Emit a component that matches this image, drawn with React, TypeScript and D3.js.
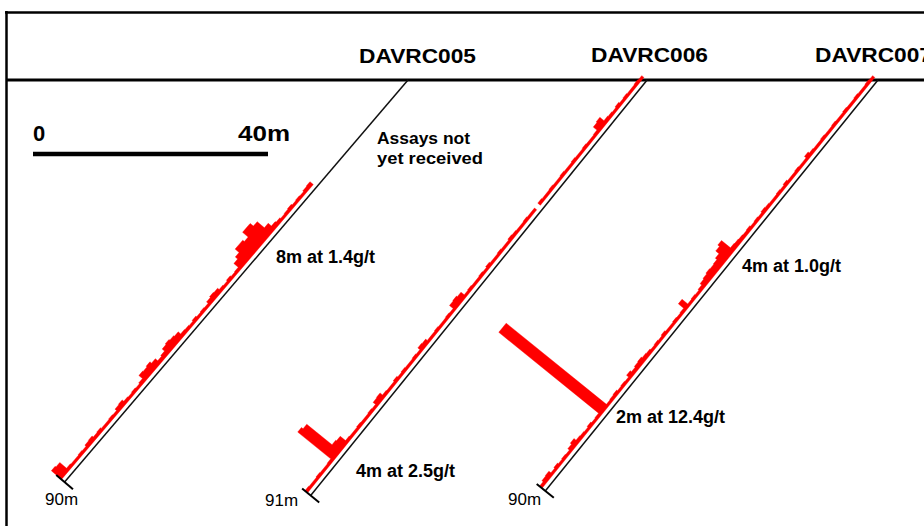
import * as d3 from "d3";

// drill section DAVRC005-007, gold assays (g/t) per 1m downhole, null = not sampled
const holeIds = ["DAVRC005", "DAVRC006", "DAVRC007"];
const collarEasting = [0, 40.7, 80];
const holeDip = [49.5, 51, 51];
const holeDepth = [90, 91, 90];
const assayStart = [24, 0, 0];
const depthLabels = ["90m", "91m", "90m"];

const grades005 = [
  0.25, 0.2, 0.1, 0.15, 0.1, 0.2, 0.15, 0.1, 0.2, 0.3,
  0.7, 1.6, 2.0, 2.0, 1.3, 1.5, 1.5, 1.0, 0.7,
  0.15, 0.1, 0.2, 0.1, 0.15,
  0.35, 0.4, 0.3,
  0.1, 0.15, 0.1, 0.2, 0.1, 0.15, 0.2,
  0.5, 0.6, 0.7, 0.6, 0.3,
  0.2, 0.5,
  0.7, 0.6, 0.65, 0.2,
  0.1, 0.15, 0.1, 0.15,
  0.35, 0.3,
  0.1, 0.15, 0.1, 0.1, 0.2, 0.15,
  0.3, 0.25,
  0.1, 0.15, 0.1, 0.1, 0.15,
  1.0, 1.1,
];
const grades006 = [
  0.1, 0.15, 0.1, 0.1, 0.15, 0.1, 0.2, 0.1, 0.15, 0.2,
  0.7, 0.6,
  0.15, 0.1, 0.1, 0.15, 0.1, 0.1, 0.15, 0.1, 0.1, 0.15, 0.1, 0.1, 0.15, 0.1, 0.1, 0.15,
  null,
  0.1, 0.1, 0.15, 0.1, 0.1, 0.15, 0.2, 0.1, 0.1, 0.15, 0.1, 0.1, 0.2, 0.1, 0.15, 0.1, 0.1, 0.15, 0.1,
  0.5, 0.6, 0.55,
  0.1, 0.15, 0.1, 0.1, 0.15, 0.1, 0.1,
  0.3, 0.35,
  0.1, 0.15, 0.1, 0.1, 0.15, 0.1, 0.2, 0.1, 0.1, 0.15,
  0.45, 0.4,
  0.1, 0.15, 0.1, 0.1, 0.15, 0.1, 0.1, 0.15,
  0.8, 0.9, 4.0, 4.2,
  0.15, 0.1, 0.1, 0.15, 0.1, 0.1, 0.15,
];
const grades007 = [
  0.1, 0.15, 0.1, 0.1, 0.15, 0.1, 0.1, 0.15, 0.1, 0.1,
  0.15, 0.1, 0.1, 0.15, 0.1, 0.1, 0.15, 0.3, 0.1, 0.1,
  0.15, 0.1, 0.1, 0.2, 0.1, 0.15, 0.1, 0.1, 0.15, 0.2,
  0.1, 0.15, 0.1, 0.2, 0.15, 0.2, 0.25,
  0.3, 1.4, 1.2, 0.8, 0.6, 0.55, 0.6, 0.5, 0.4, 0.2,
  0.1, 0.15, 0.1,
  0.8, 0.15,
  0.1, 0.15, 0.1, 0.1, 0.2, 0.1, 0.15, 0.1, 0.2, 0.25,
  0.35, 0.3, 0.2, 0.35,
  0.1, 0.15, 0.1, 0.2, 0.15, 0.1,
  12.4, 12.4,
  0.15, 0.1, 0.2, 0.1, 0.15, 0.2,
  0.45, 0.3,
  0.1, 0.15, 0.1, 0.2, 0.1,
  0.35, 0.3, 0.15,
];
const holeGrades = [grades005, grades006, grades007];

const intercepts = ["8m at 1.4g/t", "4m at 2.5g/t", "2m at 12.4g/t", "4m at 1.0g/t"];
const scaleBarTicks = [0, 40];

// layout
const W = 924, H = 526;
const font = "'Liberation Sans', Arial, Helvetica, sans-serif";
const interceptPos = [[276, 263], [356, 477], [616, 423], [742, 272]];
const depthLabelPos = [[45, 505], [265, 506], [508, 505]];
const nameX = [359, 591, 815];
const nameY = [63, 62, 62];
const RED_OFF = 5;

type Pt = [number, number];

export default function App() {
  const x = d3.scaleLinear().domain([0, 40]).range([408, 643]);
  const y = d3.scaleLinear().domain([0, 40]).range([80, 315]);
  const gx = d3.scaleLinear().domain([0, 12.4]).range([0, 130]);
  const sb = d3.scaleLinear().domain([0, 40]).range([33, 268]);
  const line = d3.line<Pt>();

  const holes = holeIds.map((id, i) => {
    const a = (holeDip[i] * Math.PI) / 180;
    const cos = Math.cos(a), sin = Math.sin(a);
    const at = (d: number): Pt => [x(collarEasting[i] - d * cos), y(d * sin)];
    const n: Pt = [-sin, -cos]; // up-left normal
    const off = (p: Pt, k: number): Pt => [p[0] + n[0] * k, p[1] + n[1] * k];
    const grades = holeGrades[i];

    // split into contiguous sampled runs, one stepped polygon per run
    const runs: { d0: number; d1: number; v: number }[][] = [];
    let cur: { d0: number; d1: number; v: number }[] = [];
    grades.forEach((v, j) => {
      if (v == null) { if (cur.length) runs.push(cur); cur = []; return; }
      const d0 = assayStart[i] + j;
      cur.push({ d0, d1: Math.min(d0 + 1, holeDepth[i]), v });
    });
    if (cur.length) runs.push(cur);

    const bars = runs.map((r) => {
      const outer: Pt[] = [];
      r.forEach((s) => {
        const e = RED_OFF + 0.9 + gx(s.v);
        outer.push(off(at(s.d0), e), off(at(s.d1), e));
      });
      const inner: Pt[] = [off(at(r[r.length - 1].d1), RED_OFF - 0.9), off(at(r[0].d0), RED_OFF - 0.9)];
      return line([...outer, ...inner])! + "Z";
    });

    const end = at(holeDepth[i]);
    return {
      id, trace: line([at(0), end])!, bars,
      tick: line([off(end, 11), off(end, -11)])!,
    };
  });

  return (
    <div style={{ position: "absolute", left: 0, top: 0, width: W, height: H, background: "#fff" }}>
      <svg width={W} height={H} style={{ display: "block" }} fontFamily={font}>
        <rect width={W} height={H} fill="#fff" />
        {/* frame + ground surface */}
        <line x1={5} x2={W} y1={12.5} y2={12.5} stroke="#000" strokeWidth={2.5} />
        <line x1={6.5} x2={6.5} y1={11} y2={H} stroke="#000" strokeWidth={2.5} />
        <line x1={6} x2={W} y1={y(0)} y2={y(0)} stroke="#000" strokeWidth={3} />

        {holes.map((h, i) => (
          <g key={h.id}>
            <path d={h.trace} stroke="#111" strokeWidth={1.5} fill="none" />
            {h.bars.map((b, j) => <path key={j} d={b} fill="#f00" stroke="#f00" strokeWidth={0.4} />)}
            <path d={h.tick} stroke="#000" strokeWidth={2} />
            <text x={nameX[i]} y={nameY[i]} fontSize={21} fontWeight="bold" textLength={117}
              lengthAdjust="spacingAndGlyphs">{h.id}</text>
            <text x={depthLabelPos[i][0]} y={depthLabelPos[i][1]} fontSize={17}>{depthLabels[i]}</text>
          </g>
        ))}

        {intercepts.map((t, i) => (
          <text key={t} x={interceptPos[i][0]} y={interceptPos[i][1]} fontSize={18} fontWeight="bold">{t}</text>
        ))}

        <text x={377} y={144} fontSize={17} fontWeight="bold" textLength={93} lengthAdjust="spacingAndGlyphs">Assays not</text>
        <text x={377} y={164} fontSize={17} fontWeight="bold" textLength={106} lengthAdjust="spacingAndGlyphs">yet received</text>

        {/* scale bar */}
        <line x1={sb(0)} x2={sb(40)} y1={154} y2={154} stroke="#000" strokeWidth={4.5} />
        {scaleBarTicks.map((t, i) => (
          <text key={t} x={sb(t) + (i ? -30 : 0)} y={141} fontSize={22} fontWeight="bold"
            textLength={i ? 52 : undefined} lengthAdjust="spacingAndGlyphs">{i ? `${t}m` : `${t}`}</text>
        ))}
      </svg>
    </div>
  );
}
